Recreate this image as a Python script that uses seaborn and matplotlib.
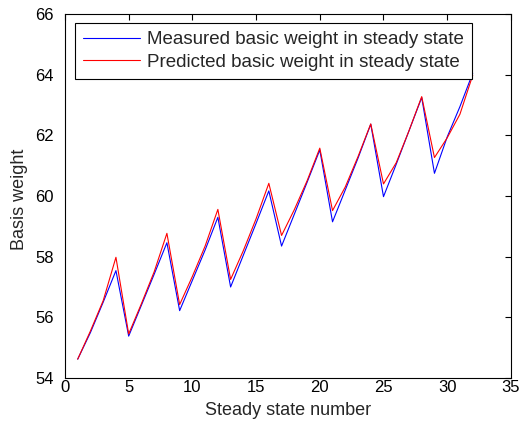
import numpy as np
import pandas as pd
import matplotlib
matplotlib.use("Agg")
import matplotlib.pyplot as plt
import seaborn as sns

# Steady state index and basis weight series
state_number = list(range(1, 33))
measured = [54.62, 55.50, 56.50, 57.54, 55.38, 56.40, 57.42, 58.46,
            56.22, 57.22, 58.22, 59.30, 57.00, 58.05, 59.10, 60.17,
            58.35, 59.40, 60.45, 61.52, 59.15, 60.20, 61.25, 62.37,
            59.98, 61.05, 62.15, 63.25, 60.75, 61.95, 62.95, 64.05]
predicted = [54.62, 55.55, 56.55, 57.98, 55.45, 56.45, 57.50, 58.77,
             56.42, 57.35, 58.35, 59.56, 57.25, 58.20, 59.25, 60.42,
             58.70, 59.55, 60.50, 61.58, 59.52, 60.30, 61.30, 62.38,
             60.40, 61.10, 62.15, 63.28, 61.27, 61.92, 62.70, 63.98]

label_measured = "Measured basic weight in steady state"
label_predicted = "Predicted basic weight in steady state"

x_ticks = [0, 5, 10, 15, 20, 25, 30, 35]
y_ticks = [54, 56, 58, 60, 62, 64, 66]

df = pd.DataFrame({
    "state": state_number * 2,
    "weight": measured + predicted,
    "series": [label_measured] * len(measured) + [label_predicted] * len(predicted),
})

sns.set_style("white")
plt.rcParams["font.family"] = ["Liberation Sans", "DejaVu Sans"]

fig = plt.figure(figsize=(5.24, 4.29), dpi=100)
ax = fig.add_axes([0.124, 0.119, 0.851, 0.848])

sns.lineplot(data=df, x="state", y="weight", hue="series",
             palette={label_measured: "#0000ff", label_predicted: "#ff0000"},
             linewidth=0.8, ax=ax, legend=True)

ax.set_xlim(0, 35)
ax.set_ylim(54, 66)
ax.set_xticks(x_ticks)
ax.set_yticks(y_ticks)
ax.tick_params(direction="in", length=4, width=0.8, top=True, right=True,
               labelsize=12, colors="black")
ax.tick_params(axis="x", pad=1.5)
ax.tick_params(axis="y", pad=8)
for s in ax.spines.values():
    s.set_visible(True)
    s.set_color("black")
    s.set_linewidth(0.8)

ax.set_xlabel("Steady state number", fontsize=13, labelpad=5)
ax.set_ylabel("Basis weight", fontsize=13)
ax.yaxis.set_label_coords(-0.083, 0.49)

leg = ax.legend(loc="upper left", bbox_to_anchor=(0.022, 0.975), fontsize=13.5,
                frameon=True, fancybox=False, edgecolor="black",
                framealpha=1, handlelength=3.05, borderpad=0.42,
                labelspacing=0.28, handletextpad=0.38, borderaxespad=0)
leg.get_frame().set_linewidth(0.8)

fig.savefig("out.png", dpi=100)
